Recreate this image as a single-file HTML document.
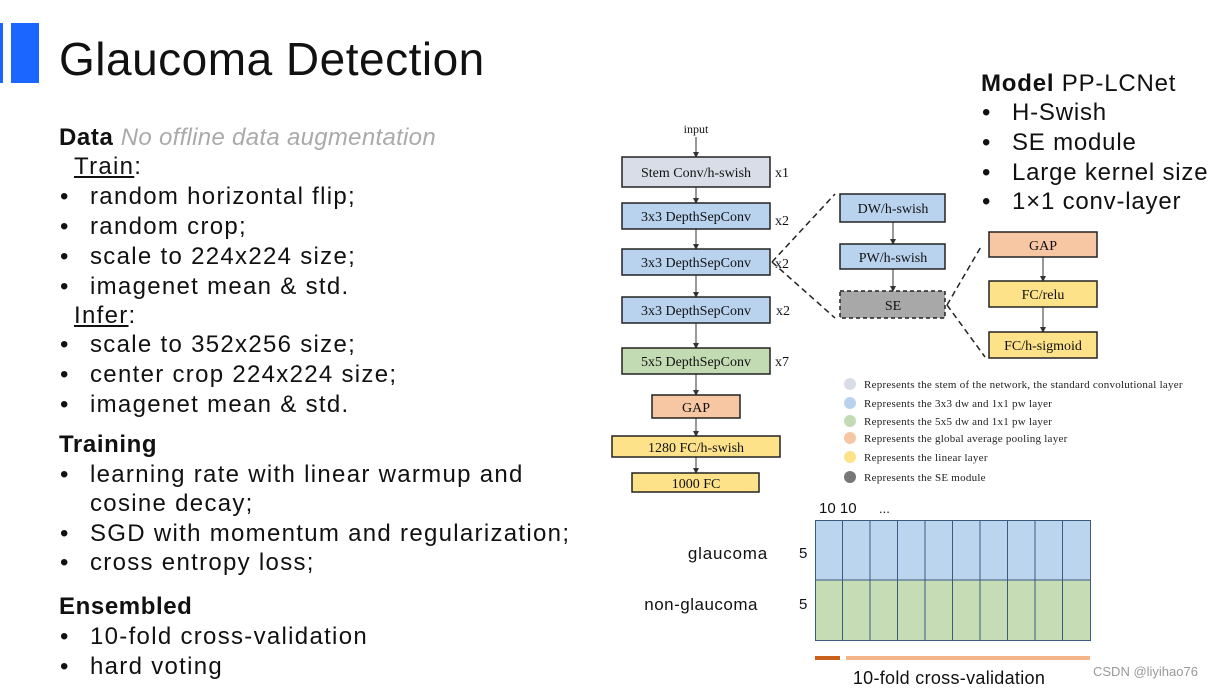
<!DOCTYPE html>
<html><head><meta charset="utf-8"><style>
body{margin:0;width:1223px;height:689px;background:#fff;position:relative;overflow:hidden;font-family:"Liberation Sans",sans-serif;color:#111}
.t{position:absolute;white-space:nowrap;font-size:24px;line-height:30px;letter-spacing:1.3px}
.b{position:absolute;white-space:nowrap;font-size:24px;line-height:30px;letter-spacing:1.3px}
.b:before{content:"•";position:absolute;left:-30px}
.r{letter-spacing:0.8px}
.h{letter-spacing:0.6px}
</style></head><body>
<div style="position:absolute;left:0;top:23px;width:3px;height:60px;background:#1a66ff"></div>
<div style="position:absolute;left:11px;top:23px;width:28px;height:60px;background:#1a66ff"></div>
<div class="t" style="left:59px;top:32px;font-size:46px;line-height:54px;letter-spacing:0.5px">Glaucoma Detection</div>

<div class="t h" style="left:59px;top:123px"><b>Data</b> <i style="color:#aaa;letter-spacing:0.3px">No offline data augmentation</i></div>
<div class="t" style="left:74px;top:152px"><u>Train</u>:</div>
<div class="b" style="left:90px;top:182px">random horizontal flip;</div>
<div class="b" style="left:90px;top:212px">random crop;</div>
<div class="b" style="left:90px;top:242px">scale to 224x224 size;</div>
<div class="b" style="left:90px;top:272px">imagenet mean &amp; std.</div>
<div class="t" style="left:74px;top:301px"><u>Infer</u>:</div>
<div class="b" style="left:90px;top:330px">scale to 352x256 size;</div>
<div class="b" style="left:90px;top:360px">center crop 224x224 size;</div>
<div class="b" style="left:90px;top:390px">imagenet mean &amp; std.</div>
<div class="t h" style="left:59px;top:430px"><b>Training</b></div>
<div class="b" style="left:90px;top:460px">learning rate with linear warmup and</div>
<div class="t" style="left:90px;top:489px">cosine decay;</div>
<div class="b" style="left:90px;top:519px">SGD with momentum and regularization;</div>
<div class="b" style="left:90px;top:548px">cross entropy loss;</div>
<div class="t h" style="left:59px;top:592px"><b>Ensembled</b></div>
<div class="b" style="left:90px;top:622px">10-fold cross-validation</div>
<div class="b" style="left:90px;top:652px">hard voting</div>

<div class="t r" style="left:981px;top:69px"><b>Model</b> PP-LCNet</div>
<div class="b r" style="left:1012px;top:98px">H-Swish</div>
<div class="b r" style="left:1012px;top:128px">SE module</div>
<div class="b r" style="left:1012px;top:158px">Large kernel size</div>
<div class="b r" style="left:1012px;top:187px">1×1 conv-layer</div>

<svg width="1223" height="689" style="position:absolute;left:0;top:0" font-family="Liberation Serif,serif">
<defs><marker id="a" markerWidth="6" markerHeight="6" refX="5" refY="3" orient="auto"><path d="M0,0L6,3L0,6z" fill="#333"/></marker></defs>
<g stroke="#333" stroke-width="1" marker-end="url(#a)">
<line x1="696" y1="137" x2="696" y2="157"/>
<line x1="696" y1="187" x2="696" y2="203"/><line x1="696" y1="229" x2="696" y2="249"/>
<line x1="696" y1="275" x2="696" y2="297"/><line x1="696" y1="323" x2="696" y2="348"/>
<line x1="696" y1="374" x2="696" y2="395"/><line x1="696" y1="418" x2="696" y2="436"/>
<line x1="696" y1="457" x2="696" y2="473"/>
<line x1="893" y1="222" x2="893" y2="244"/><line x1="893" y1="269" x2="893" y2="291"/>
<line x1="1043" y1="257" x2="1043" y2="281"/><line x1="1043" y1="307" x2="1043" y2="332"/>
</g>
<g stroke="#222" stroke-width="1.5">
<rect x="622" y="157" width="148" height="30" fill="#d9dde8"/>
<rect x="622" y="203" width="148" height="26" fill="#b9d3ee"/>
<rect x="622" y="249" width="148" height="26" fill="#b9d3ee"/>
<rect x="622" y="297" width="148" height="26" fill="#b9d3ee"/>
<rect x="622" y="348" width="148" height="26" fill="#c3dbb3"/>
<rect x="652" y="395" width="88" height="23" fill="#f7c6a3"/>
<rect x="612" y="436" width="168" height="21" fill="#fde28a"/>
<rect x="632" y="473" width="127" height="19" fill="#fde28a"/>
<rect x="840" y="194" width="105" height="28" fill="#b9d3ee"/>
<rect x="840" y="244" width="105" height="25" fill="#b9d3ee"/>
<rect x="840" y="291" width="105" height="27" fill="#a8a8a8" stroke-dasharray="4,3"/>
<rect x="989" y="232" width="108" height="25" fill="#f7c6a3"/>
<rect x="989" y="281" width="108" height="26" fill="#fde28a"/>
<rect x="989" y="332" width="108" height="26" fill="#fde28a"/>
</g>
<g stroke="#222" stroke-width="1.5" stroke-dasharray="6,4" fill="none">
<line x1="772" y1="262" x2="835" y2="194"/><line x1="772" y1="262" x2="835" y2="318"/>
<line x1="947" y1="305" x2="982" y2="245"/><line x1="947" y1="305" x2="985" y2="357"/>
</g>
<g font-size="14" fill="#111" text-anchor="middle">
<text x="696" y="133" font-size="12">input</text>
<text x="696" y="177">Stem Conv/h-swish</text>
<text x="696" y="221">3x3 DepthSepConv</text>
<text x="696" y="267">3x3 DepthSepConv</text>
<text x="696" y="315">3x3 DepthSepConv</text>
<text x="696" y="366">5x5 DepthSepConv</text>
<text x="696" y="412">GAP</text>
<text x="696" y="452">1280 FC/h-swish</text>
<text x="696" y="488">1000 FC</text>
<text x="893" y="213">DW/h-swish</text>
<text x="893" y="262">PW/h-swish</text>
<text x="893" y="310">SE</text>
<text x="1043" y="250">GAP</text>
<text x="1043" y="299">FC/relu</text>
<text x="1043" y="350">FC/h-sigmoid</text>
</g>
<g font-size="14" fill="#111">
<text x="775" y="177">x1</text><text x="775" y="225">x2</text><text x="775" y="268">x2</text>
<text x="776" y="315">x2</text><text x="775" y="366">x7</text>
</g>
<g font-size="11" fill="#222" letter-spacing="0.25">
<circle cx="850" cy="384" r="6" fill="#d9dde8"/><text x="864" y="388">Represents the stem of the network, the standard convolutional layer</text>
<circle cx="850" cy="403" r="6" fill="#b9d3ee"/><text x="864" y="407">Represents the 3x3 dw and 1x1 pw layer</text>
<circle cx="850" cy="421" r="6" fill="#c3dbb3"/><text x="864" y="425">Represents the 5x5 dw and 1x1 pw layer</text>
<circle cx="850" cy="438" r="6" fill="#f7c6a3"/><text x="864" y="442">Represents the global average pooling layer</text>
<circle cx="850" cy="457" r="6" fill="#fde28a"/><text x="864" y="461">Represents the linear layer</text>
<circle cx="850" cy="477" r="6" fill="#777"/><text x="864" y="481">Represents the SE module</text>
</g>
<rect x="815" y="520" width="275" height="60" fill="#bcd5ee"/>
<rect x="815" y="580" width="275" height="61" fill="#c5dcb5"/>
<g stroke="#3a5a80" stroke-width="1" fill="none">
<rect x="815.5" y="520.5" width="275" height="120"/><line x1="815" y1="580" x2="1090" y2="580"/>
<line x1="842.5" y1="520" x2="842.5" y2="641"/><line x1="870" y1="520" x2="870" y2="641"/>
<line x1="897.5" y1="520" x2="897.5" y2="641"/><line x1="925" y1="520" x2="925" y2="641"/>
<line x1="952.5" y1="520" x2="952.5" y2="641"/><line x1="980" y1="520" x2="980" y2="641"/>
<line x1="1007.5" y1="520" x2="1007.5" y2="641"/><line x1="1035" y1="520" x2="1035" y2="641"/>
<line x1="1062.5" y1="520" x2="1062.5" y2="641"/>
</g>
<rect x="815" y="656" width="25" height="4" fill="#c8621a"/>
<rect x="846" y="656" width="244" height="4" fill="#f6b48a"/>
<g font-family="Liberation Sans,sans-serif" fill="#111">
<text x="819" y="513" font-size="15">10 10</text><text x="879" y="513" font-size="13">...</text>
<text x="768" y="559" font-size="17" text-anchor="end" letter-spacing="0.8">glaucoma</text>
<text x="758" y="610" font-size="17" text-anchor="end" letter-spacing="0.5">non-glaucoma</text>
<text x="799" y="558" font-size="15">5</text><text x="799" y="609" font-size="15">5</text>
<text x="949" y="684" font-size="18" text-anchor="middle" letter-spacing="0.3">10-fold cross-validation</text>
<text x="1093" y="676" font-size="13" fill="#999">CSDN @liyihao76</text>
</g>
</svg>
</body></html>
